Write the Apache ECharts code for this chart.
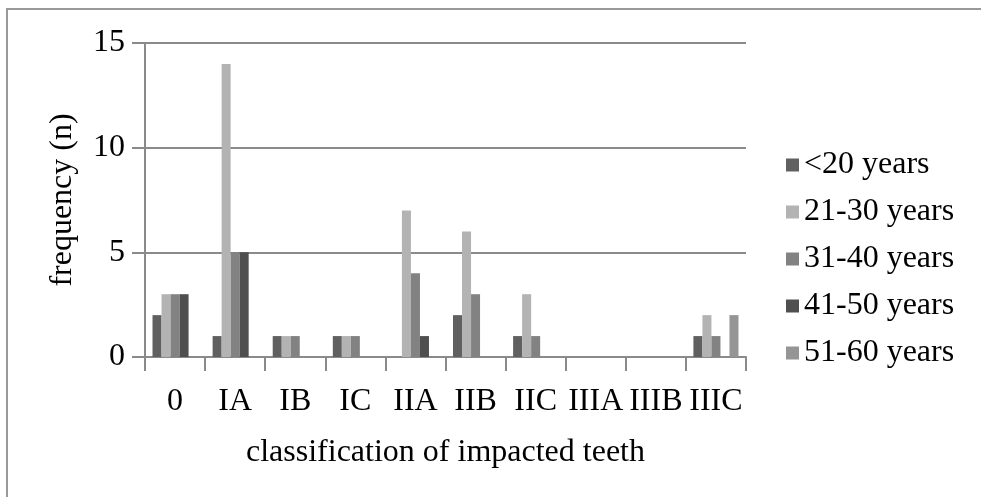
<!DOCTYPE html>
<html>
<head>
<meta charset="utf-8">
<script src="https://cdn.jsdelivr.net/npm/echarts@6/dist/echarts.min.js"></script>
<style>
html,body{margin:0;padding:0;background:#fff;}
#chart{width:981px;height:497px;}
</style>
</head>
<body>
<div id="chart"></div>
<script>
const categories = ['0','IA','IB','IC','IIA','IIB','IIC','IIIA','IIIB','IIIC'];
const seriesNames = ['<20 years','21-30 years','31-40 years','41-50 years','51-60 years'];
const under20 = [2,1,1,1,0,2,1,0,0,1];
const age21to30 = [3,14,1,1,7,6,3,0,0,2];
const age31to40 = [3,5,1,1,4,3,1,0,0,1];
const age41to50 = [3,5,0,0,1,0,0,0,0,0];
const age51to60 = [0,0,0,0,0,0,0,0,0,2];
const yTicks = [0,5,10,15];

const colors = ['#606060','#b3b3b3','#828282','#4f4f4f','#959595'];
const values = [under20, age21to30, age31to40, age41to50, age51to60];
const font = 'Liberation Serif';

const chart = echarts.init(document.getElementById('chart'));
chart.setOption({
  animation: false,
  color: colors,
  graphic: [{
    type: 'rect',
    shape: {x: 7, y: 9, width: 1100, height: 700},
    style: {fill: 'none', stroke: '#999', lineWidth: 2},
    silent: true
  }],
  grid: {left: 145, right: 235, top: 43, bottom: 140},
  legend: {
    orient: 'vertical',
    left: 781,
    top: 144,
    itemWidth: 13,
    itemHeight: 13,
    itemGap: 15,
    icon: 'rect',
    data: seriesNames,
    textStyle: {fontFamily: font, fontSize: 32, lineHeight: 32, color: '#000'}
  },
  xAxis: {
    type: 'category',
    data: categories,
    name: 'classification of impacted teeth',
    nameLocation: 'middle',
    nameGap: 80,
    nameTextStyle: {fontFamily: font, fontSize: 32, color: '#000'},
    axisLine: {lineStyle: {color: '#8a8a8a', width: 2}},
    axisTick: {show: true, length: 14, lineStyle: {color: '#8a8a8a', width: 2}},
    axisLabel: {fontFamily: font, fontSize: 32, color: '#000', margin: 29, interval: 0}
  },
  yAxis: {
    type: 'value',
    min: yTicks[0],
    max: yTicks[yTicks.length - 1],
    interval: 5,
    name: 'frequency (n)',
    nameLocation: 'middle',
    nameGap: 66,
    nameTextStyle: {fontFamily: font, fontSize: 32, color: '#000'},
    axisLine: {show: true, lineStyle: {color: '#8a8a8a', width: 2}},
    axisTick: {show: true, length: 13, lineStyle: {color: '#8a8a8a', width: 2}},
    axisLabel: {fontFamily: font, fontSize: 32, color: '#000', margin: 20},
    splitLine: {lineStyle: {color: '#8a8a8a', width: 2}}
  },
  series: seriesNames.map((n, i) => ({
    name: n,
    type: 'bar',
    data: values[i],
    barGap: '0%',
    barCategoryGap: '25%'
  }))
});
</script>
</body>
</html>
